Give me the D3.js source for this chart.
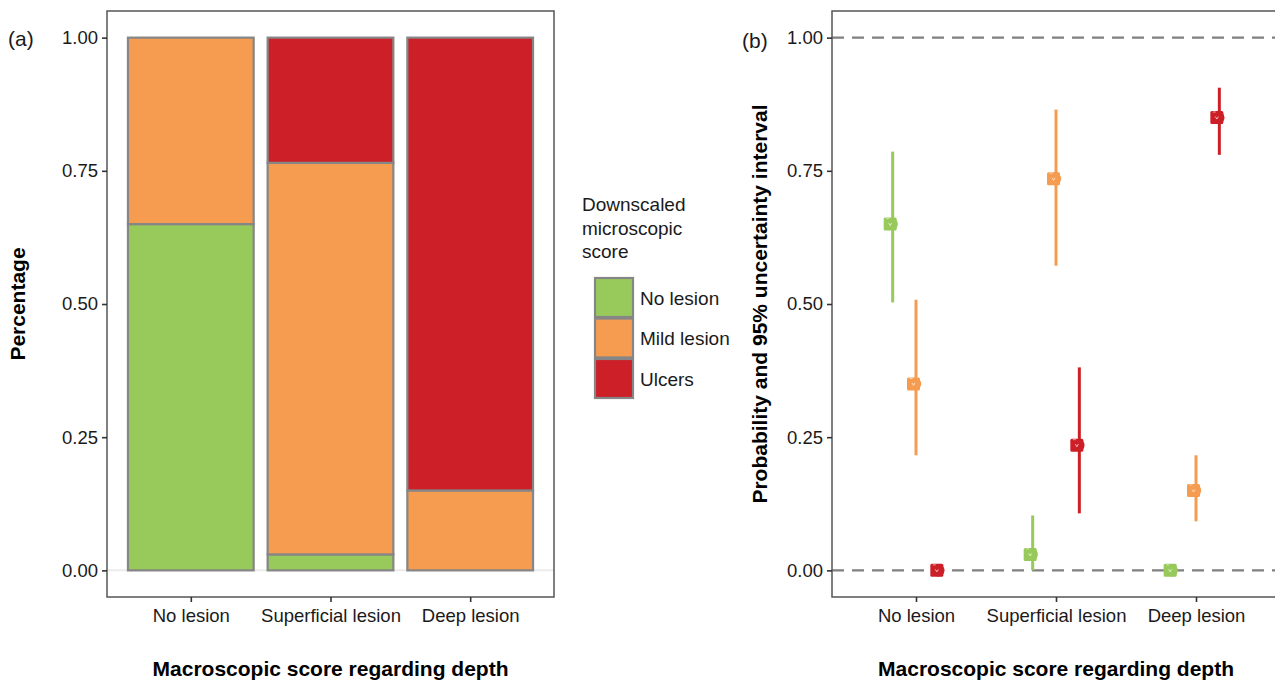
<!DOCTYPE html>
<html>
<head>
<meta charset="utf-8">
<script src="https://cdn.jsdelivr.net/npm/d3@7"></script>
<style>
  body { margin: 0; background: #fff; }
  svg { display: block; font-family: "Liberation Sans", Arial, sans-serif; }
</style>
</head>
<body>
<svg id="chart" width="1275" height="682"></svg>
<script>
// ---------- data ----------
const categories = ["No lesion", "Superficial lesion", "Deep lesion"];
const scores = ["No lesion", "Mild lesion", "Ulcers"];
const colors = ["#97ca5a", "#f59c51", "#cc1f27"];
// panel (a): proportions per macroscopic category
const propNoLesion = [0.65, 0.03, 0.00];
const propMild     = [0.35, 0.735, 0.15];
const propUlcers   = [0.00, 0.235, 0.85];
// panel (b): probability estimates and 95% intervals
const lowNoLesion  = [0.503, 0.000, 0.000];
const highNoLesion = [0.786, 0.103, 0.000];
const lowMild      = [0.216, 0.572, 0.092];
const highMild     = [0.508, 0.865, 0.216];
const lowUlcers    = [0.000, 0.107, 0.780];
const highUlcers   = [0.000, 0.381, 0.906];
const yTicks = [0, 0.25, 0.5, 0.75, 1];
const refLines = [0, 1];

const props = [propNoLesion, propMild, propUlcers];
const lows = [lowNoLesion, lowMild, lowUlcers];
const highs = [highNoLesion, highMild, highUlcers];

const svg = d3.select("#chart");
const fmt = d3.format(".2f");
const TICK_FONT = "18.5px";
const TITLE_FONT = "21px";

function yAxis(g, y, left) {
  const ax = d3.axisLeft(y).tickValues(yTicks).tickFormat(fmt).tickSize(5).tickPadding(4);
  g.attr("transform", `translate(${left},0)`).call(ax);
  g.select(".domain").remove();
  g.selectAll(".tick line").attr("stroke", "#333").attr("stroke-width", 1.6);
  g.selectAll(".tick text").attr("fill", "#1a1a1a").style("font-size", TICK_FONT)
    .style("font-family", "Liberation Sans, Arial, sans-serif");
}
function xAxis(g, x, bottom) {
  const ax = d3.axisBottom(x).tickSize(5).tickPadding(7);
  g.attr("transform", `translate(0,${bottom})`).call(ax);
  g.select(".domain").remove();
  g.selectAll(".tick line").attr("stroke", "#333").attr("stroke-width", 1.6);
  g.selectAll(".tick text").attr("fill", "#1a1a1a").style("font-size", TICK_FONT)
    .style("font-family", "Liberation Sans, Arial, sans-serif");
}

// ---------- panel (a) ----------
const A = { left: 107, right: 554, top: 11, bottom: 597 };
const xa = d3.scalePoint().domain(categories).range([A.left, A.right]).padding(0.6);
const ya = d3.scaleLinear().domain([-0.05, 1.05]).range([A.bottom, A.top]);
const barW = xa.step() * 0.9;

const ga = svg.append("g");
ga.append("line").attr("x1", A.left).attr("x2", A.right)
  .attr("y1", ya(0)).attr("y2", ya(0)).attr("stroke", "#ebebeb").attr("stroke-width", 2);

const stacked = [];
categories.forEach((c, i) => {
  let cum = 0;
  scores.forEach((s, k) => {
    const v = props[k][i];
    if (v > 0) stacked.push({ cat: c, k, y0: cum, y1: cum + v });
    cum += v;
  });
});
ga.selectAll("rect.bar").data(stacked).join("rect").attr("class", "bar")
  .attr("x", d => xa(d.cat) - barW / 2)
  .attr("width", barW)
  .attr("y", d => ya(d.y1))
  .attr("height", d => ya(d.y0) - ya(d.y1))
  .attr("fill", d => colors[d.k])
  .attr("stroke", "#868686").attr("stroke-width", 2.2);

ga.append("rect").attr("x", A.left).attr("y", A.top)
  .attr("width", A.right - A.left).attr("height", A.bottom - A.top)
  .attr("fill", "none").attr("stroke", "#555").attr("stroke-width", 1.5);

yAxis(ga.append("g"), ya, A.left);
xAxis(ga.append("g"), xa, A.bottom);

ga.append("text").attr("x", 8).attr("y", 46).text("(a)")
  .style("font-size", "21px").attr("fill", "#1a1a1a");
ga.append("text").attr("transform", `translate(25,${(A.top + A.bottom) / 2}) rotate(-90)`)
  .attr("text-anchor", "middle").text("Percentage")
  .style("font-size", TITLE_FONT).style("font-weight", "bold").attr("fill", "#000");
ga.append("text").attr("x", (A.left + A.right) / 2).attr("y", 676)
  .attr("text-anchor", "middle").text("Macroscopic score regarding depth")
  .style("font-size", TITLE_FONT).style("font-weight", "bold").attr("fill", "#000");

// legend
const lg = svg.append("g");
["Downscaled", "microscopic", "score"].forEach((t, i) => {
  lg.append("text").attr("x", 582).attr("y", 211 + i * 23.5).text(t)
    .style("font-size", "19px").attr("fill", "#1a1a1a");
});
scores.forEach((s, k) => {
  const y0 = 278 + k * 40.5;
  lg.append("rect").attr("x", 595).attr("y", y0).attr("width", 38).attr("height", 39)
    .attr("fill", colors[k]).attr("stroke", "#868686").attr("stroke-width", 2.2);
  lg.append("text").attr("x", 640).attr("y", y0 + 20).attr("dy", "0.35em").text(s)
    .style("font-size", "19px").attr("fill", "#1a1a1a");
});

// ---------- panel (b) ----------
const B = { left: 832, right: 1280, top: 11, bottom: 597 };
const xb = d3.scalePoint().domain(categories).range([B.left, B.right]).padding(0.6);
const yb = d3.scaleLinear().domain([-0.05, 1.05]).range([B.bottom, B.top]);
const dodge = xb.step() * 0.5 / 3;

const gb = svg.append("g");
gb.selectAll("line.ref").data(refLines).join("line").attr("class", "ref")
  .attr("x1", B.left).attr("x2", B.right)
  .attr("y1", d => yb(d)).attr("y2", d => yb(d))
  .attr("stroke", "#808080").attr("stroke-width", 2.2).attr("stroke-dasharray", "12,8");

const pts = [];
categories.forEach((c, i) => {
  scores.forEach((s, k) => {
    pts.push({ cat: c, k, v: props[k][i], lo: lows[k][i], hi: highs[k][i],
               x: xb(c) + (k - 1) * dodge });
  });
});
gb.selectAll("line.ci").data(pts.filter(d => d.hi > d.lo)).join("line").attr("class", "ci")
  .attr("x1", d => d.x).attr("x2", d => d.x)
  .attr("y1", d => yb(d.lo)).attr("y2", d => yb(d.hi))
  .attr("stroke", d => colors[d.k]).attr("stroke-width", 3);

const pg = gb.selectAll("g.pt").data(pts).join("g").attr("class", "pt")
  .attr("transform", d => `translate(${d.x - 2.5},${yb(d.v)})`);
pg.append("rect").attr("x", -6.5).attr("y", -6.5).attr("width", 13).attr("height", 13).attr("rx", 1.5)
  .attr("fill", d => colors[d.k]);
pg.append("circle").attr("cx", 1.5).attr("cy", 0).attr("r", 6.2).attr("fill", d => colors[d.k]);
pg.append("path").attr("d", "M-1.5,-1 L0,1.5 L1.5,-1").attr("fill", "none")
  .attr("stroke", "#fff").attr("stroke-width", 0.8).attr("opacity", 0.85);
pg.append("line").attr("x1", -4).attr("x2", -1).attr("y1", -5.5).attr("y2", -5.5)
  .attr("stroke", "#fff").attr("stroke-width", 0.8).attr("opacity", 0.7);

gb.append("rect").attr("x", B.left).attr("y", B.top)
  .attr("width", B.right - B.left).attr("height", B.bottom - B.top)
  .attr("fill", "none").attr("stroke", "#555").attr("stroke-width", 1.5);

yAxis(gb.append("g"), yb, B.left);
xAxis(gb.append("g"), xb, B.bottom);

gb.append("text").attr("x", 742).attr("y", 48).text("(b)")
  .style("font-size", "21px").attr("fill", "#1a1a1a");
gb.append("text").attr("transform", `translate(767,${(B.top + B.bottom) / 2}) rotate(-90)`)
  .attr("text-anchor", "middle").text("Probability and 95% uncertainty interval")
  .style("font-size", TITLE_FONT).style("font-weight", "bold").attr("fill", "#000");
gb.append("text").attr("x", (B.left + B.right) / 2).attr("y", 676)
  .attr("text-anchor", "middle").text("Macroscopic score regarding depth")
  .style("font-size", TITLE_FONT).style("font-weight", "bold").attr("fill", "#000");
</script>
</body>
</html>
